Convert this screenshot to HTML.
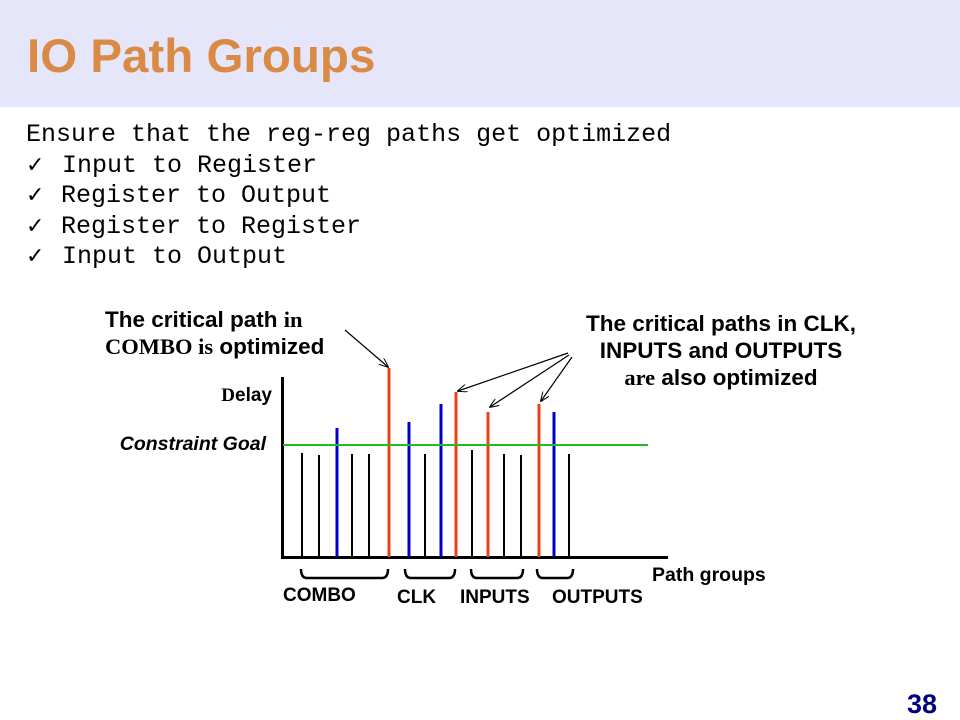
<!DOCTYPE html>
<html><head><meta charset="utf-8"><style>
body{margin:0;width:960px;height:720px;overflow:hidden;background:#fff}
svg{display:block}
</style></head><body>
<svg width="960" height="720" xmlns="http://www.w3.org/2000/svg">
<defs><marker id="a" markerWidth="10" markerHeight="8" refX="9" refY="4" orient="auto" markerUnits="userSpaceOnUse"><path d="M0,0 L10,4 L0,8" fill="none" stroke="#000" stroke-width="1"/></marker></defs>
<rect x="0" y="0" width="960" height="107" fill="#e6e6fa"/>
<text x="27" y="72" font-family="Liberation Sans, sans-serif" font-weight="bold" font-size="47.5" fill="#d98a45">IO Path Groups</text>
<g font-family="Liberation Mono, monospace" font-size="25" fill="#000">
<text x="26" y="141">Ensure that the reg-reg paths get optimized</text>
<text x="26" y="172"><tspan font-family="DejaVu Sans, sans-serif" font-size="22" font-weight="bold">✓</tspan><tspan x="62">Input to Register</tspan></text>
<text x="26" y="202"><tspan font-family="DejaVu Sans, sans-serif" font-size="22" font-weight="bold">✓</tspan><tspan x="61">Register to Output</tspan></text>
<text x="26" y="233"><tspan font-family="DejaVu Sans, sans-serif" font-size="22" font-weight="bold">✓</tspan><tspan x="61">Register to Register</tspan></text>
<text x="26" y="263"><tspan font-family="DejaVu Sans, sans-serif" font-size="22" font-weight="bold">✓</tspan><tspan x="62">Input to Output</tspan></text>
</g>
<g font-family="Liberation Sans, sans-serif" font-weight="bold" font-size="22.5" fill="#000">
<text x="105" y="327">The critical path <tspan font-family="Liberation Serif, serif">in</tspan></text>
<text x="105" y="354"><tspan font-family="Liberation Serif, serif">COMBO is</tspan> optimized</text>
<text x="721" y="331" text-anchor="middle">The critical paths in CLK,</text>
<text x="721" y="358" text-anchor="middle">INPUTS and OUTPUTS</text>
<text x="721" y="385" text-anchor="middle"><tspan font-family="Liberation Serif, serif">are</tspan> also optimized</text>
<text x="272" y="401" font-size="19" text-anchor="end"><tspan font-family="Liberation Serif, serif">D</tspan>elay</text>
<text x="266" y="450" font-size="19.5" font-style="italic" text-anchor="end">Constraint Goal</text>
<text x="652" y="581" font-size="19.5">Path groups</text>
<text x="283" y="601" font-size="19">COMBO</text>
<text x="397" y="603" font-size="19">CLK</text>
<text x="460" y="603" font-size="19">INPUTS</text>
<text x="552" y="603" font-size="19">OUTPUTS</text>
</g>
<g stroke="#000" stroke-width="3" fill="none">
<line x1="282.5" y1="377" x2="282.5" y2="558"/>
<line x1="281" y1="557.5" x2="668" y2="557.5"/>
</g>
<g stroke="#000" stroke-width="2">
<line x1="302" y1="453" x2="302" y2="557"/>
<line x1="319" y1="455" x2="319" y2="557"/>
<line x1="352" y1="454" x2="352" y2="557"/>
<line x1="369" y1="454" x2="369" y2="557"/>
<line x1="425" y1="454" x2="425" y2="557"/>
<line x1="472" y1="450" x2="472" y2="557"/>
<line x1="504" y1="454" x2="504" y2="557"/>
<line x1="521" y1="455" x2="521" y2="557"/>
<line x1="569" y1="454" x2="569" y2="557"/>
</g>
<g stroke="#0000cc" stroke-width="3">
<line x1="337" y1="428" x2="337" y2="557"/>
<line x1="409" y1="422" x2="409" y2="557"/>
<line x1="441" y1="404" x2="441" y2="557"/>
<line x1="554" y1="412" x2="554" y2="557"/>
</g>
<g stroke="#e8401a" stroke-width="3">
<line x1="389" y1="368" x2="389" y2="557"/>
<line x1="456" y1="392" x2="456" y2="557"/>
<line x1="488" y1="412" x2="488" y2="557"/>
<line x1="539" y1="404" x2="539" y2="557"/>
</g>
<line x1="283" y1="445" x2="648" y2="445" stroke="#22bb22" stroke-width="2"/>
<g stroke="#000" stroke-width="1.2" marker-end="url(#a)">
<line x1="345" y1="330" x2="388" y2="367"/>
<line x1="568" y1="353" x2="458" y2="391"/>
<line x1="569" y1="355" x2="490" y2="407"/>
<line x1="572" y1="357" x2="541" y2="401"/>
</g>
<g stroke="#000" stroke-width="2.5" fill="none">
<path d="M301,569 q0,9 6,9 h75 q6,0 6,-9"/>
<path d="M405,569 q0,9 6,9 h38 q6,0 6,-9"/>
<path d="M471,569 q0,9 6,9 h40 q6,0 6,-9"/>
<path d="M537,569 q0,9 6,9 h24 q6,0 6,-9"/>
</g>
<text x="937" y="713" font-family="Liberation Sans, sans-serif" font-weight="bold" font-size="27" fill="#000080" text-anchor="end">38</text>
</svg>
</body></html>
